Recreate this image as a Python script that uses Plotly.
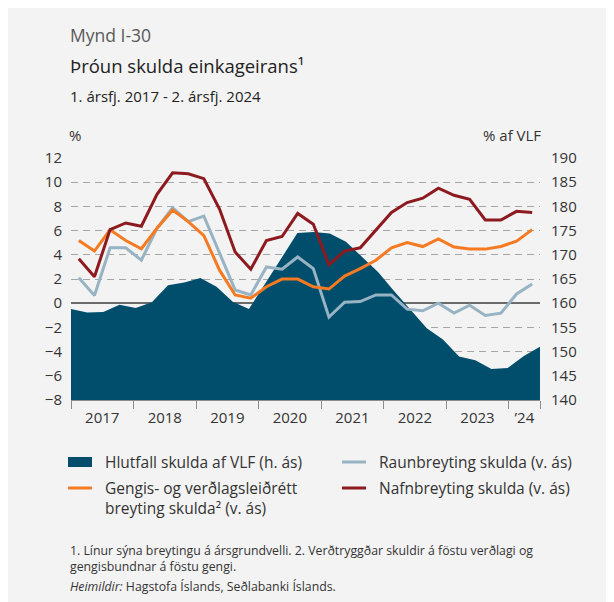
import plotly.graph_objects as go

# ---- data ----
quarters = [f"{y}Q{q}" for y in range(2017, 2025) for q in range(1, 5)][:30]

hlutfall_vlf = [158.8, 158.1, 158.2, 159.7, 159.0, 160.2, 163.7, 164.3, 165.2, 163.4,
                160.3, 158.8, 164.0, 169.2, 174.5, 174.7, 174.4, 172.7, 169.6, 166.4,
                162.4, 158.7, 154.8, 152.5, 149.0, 148.2, 146.4, 146.6, 149.1, 151.0]

raunbreyting = [2.10, 0.63, 4.58, 4.58, 3.55, 6.19, 7.90, 6.74, 7.20, 4.10,
                1.09, 0.68, 3.00, 2.81, 3.82, 2.86, -1.15, 0.08, 0.14, 0.68,
                0.68, -0.49, -0.63, 0.00, -0.82, -0.16, -1.01, -0.82, 0.76, 1.58]

gengis = [5.18, 4.31, 6.06, 5.18, 4.50, 6.19, 7.69, 6.74, 5.59, 2.73,
          0.68, 0.41, 1.36, 1.99, 1.99, 1.36, 1.17, 2.24, 2.86, 3.55,
          4.58, 5.02, 4.68, 5.32, 4.64, 4.47, 4.47, 4.69, 5.13, 6.08]

nafnbreyting = [3.68, 2.18, 6.08, 6.63, 6.36, 9.00, 10.78, 10.70, 10.29, 7.78,
                4.23, 2.81, 5.18, 5.51, 7.42, 6.52, 3.18, 4.31, 4.58, 6.00,
                7.50, 8.32, 8.68, 9.50, 8.92, 8.59, 6.88, 6.88, 7.59, 7.50]

year_labels = ["2017", "2018", "2019", "2020", "2021", "2022", "2023", "\u201924"]
left_ticks = list(range(-8, 13, 2))
right_ticks = list(range(140, 191, 5))

series_names = ["Hlutfall skulda af VLF (h. ás)",
                "Raunbreyting skulda (v. ás)",
                "Gengis- og verðlagsleiðrétt<br>breyting skulda² (v. ás)",
                "Nafnbreyting skulda (v. ás)"]

FONT = "Open Sans"
BG = "#f3f3f3"
TXT = "#333333"
C_AREA, C_BLUE, C_ORANGE, C_RED = "#004e6b", "#98b3c3", "#f57a21", "#8c1a1f"

idx = list(range(len(quarters)))
n = len(quarters)

fig = go.Figure()

# area (base subplot, right axis, edge-to-edge)
fig.add_trace(go.Scatter(
    x=idx, y=hlutfall_vlf, xaxis="x", yaxis="y", mode="lines",
    fill="tozeroy", fillcolor=C_AREA, line=dict(color=C_AREA, width=0),
    name=series_names[0], hoverinfo="skip"))

# lines (overlay subplot, left axis)
fig.add_trace(go.Scatter(x=idx, y=raunbreyting, xaxis="x2", yaxis="y2", mode="lines",
                         line=dict(color=C_BLUE, width=3), name=series_names[1]))
fig.add_trace(go.Scatter(x=idx, y=gengis, xaxis="x2", yaxis="y2", mode="lines",
                         line=dict(color=C_ORANGE, width=3), name=series_names[2]))
fig.add_trace(go.Scatter(x=idx, y=nafnbreyting, xaxis="x2", yaxis="y2", mode="lines",
                         line=dict(color=C_RED, width=3), name=series_names[3]))

OFF = 8  # page body margin
W, H = 606, 594
L, T = 71 - OFF, 158 - OFF
R = W - (540 - OFF)
B = H - (400 - OFF)
pw, ph = W - L - R, H - T - B


def px(xs):
    return (xs - OFF - L) / pw


def py(ys):
    return (H - B - (ys - OFF)) / ph


year_centers = [4 * k + 1.5 for k in range(len(year_labels))]
year_centers[-1] = (28 + n - 1) / 2
boundaries = [4 * k - 0.5 for k in range(len(year_labels))] + [n - 0.5]

fig.update_layout(
    width=W, height=H,
    margin=dict(l=L, r=R, t=T, b=B, autoexpand=False),
    paper_bgcolor=BG, plot_bgcolor=BG,
    font=dict(family=FONT, size=14, color=TXT),
    showlegend=False,
    xaxis=dict(range=[0, n - 1], visible=False, showgrid=False, zeroline=False),
    yaxis=dict(range=[140, 190], side="right", tickvals=right_ticks, showgrid=False,
               zeroline=False, ticks="", ticklabelstandoff=10,
               tickfont=dict(size=15, color=TXT)),
    xaxis2=dict(overlaying="x", anchor="y2", side="bottom", range=[-0.5, n - 0.5],
                tickvals=year_centers, ticktext=year_labels, ticks="",
                tickfont=dict(size=15, color=TXT), ticklabelstandoff=4,
                showgrid=False, zeroline=False, showline=True, linecolor="#8c8c8c",
                linewidth=1,
                minor=dict(tickvals=boundaries, ticks="outside", ticklen=8,
                           tickcolor="#8c8c8c", tickwidth=1, showgrid=False)),
    yaxis2=dict(overlaying="y", side="left", range=[-8, 12], tickvals=left_ticks,
                showgrid=True, gridcolor="#a6a6a6", griddash="7px,5px", gridwidth=1,
                zeroline=True, zerolinecolor="#6b6b6b", zerolinewidth=1.5,
                ticks="", ticklabelstandoff=8, tickfont=dict(size=15, color=TXT)),
)

# ---- manual legend ----
fig.add_shape(type="rect", xref="paper", yref="paper", x0=px(68), x1=px(92),
              y0=py(467), y1=py(457), fillcolor=C_AREA, line=dict(width=0))
for (x0, yy, col) in [(342, 462, C_BLUE), (68, 488, C_ORANGE), (342, 488, C_RED)]:
    fig.add_shape(type="line", xref="paper", yref="paper", x0=px(x0), x1=px(x0 + 24),
                  y0=py(yy), y1=py(yy), line=dict(color=col, width=3))

leg = [(series_names[0], 103, 462), (series_names[1], 377, 462),
       (series_names[2], 103, 498), (series_names[3], 377, 488)]
for text, xx, yy in leg:
    fig.add_annotation(text=text, x=px(xx), y=py(yy), xref="paper", yref="paper",
                       xanchor="left", yanchor="middle", align="left", showarrow=False,
                       font=dict(family=FONT, size=15.5, color=TXT))

ann = [
    dict(text="Mynd I-30", x=px(68), y=py(35), size=17.5, color="#595959"),
    dict(text="Þróun skulda einkageirans¹", x=px(68), y=py(66), size=18.5, color="#222222"),
    dict(text="1. ársfj. 2017 - 2. ársfj. 2024", x=px(68), y=py(96), size=15, color="#222222"),
    dict(text="%", x=px(67), y=py(135), size=15, color=TXT),
    dict(text="% af VLF", x=px(481), y=py(135), size=15, color=TXT),
    dict(text="1. Línur sýna breytingu á ársgrundvelli. 2. Verðtryggðar skuldir á föstu verðlagi og",
         x=px(68), y=py(550), size=12.3, color=TXT),
    dict(text="gengisbundnar á föstu gengi.", x=px(68), y=py(566), size=12.3, color=TXT),
    dict(text="<i>Heimildir:</i> Hagstofa Íslands, Seðlabanki Íslands.", x=px(68), y=py(586),
         size=12.3, color=TXT),
]
for a in ann:
    fig.add_annotation(text=a["text"], x=a["x"], y=a["y"], xref="paper", yref="paper",
                       xanchor="left", yanchor="middle", showarrow=False,
                       font=dict(family=FONT, size=a["size"], color=a["color"]))

fig.write_html("out.html")
